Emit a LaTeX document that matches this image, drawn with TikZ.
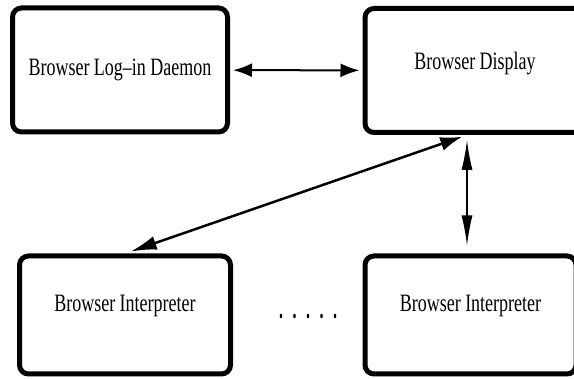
\documentclass[tikz,border=0pt]{standalone}
\usepackage{fontspec}
\newfontfamily\boxfont[FakeStretch=0.72]{Liberation Serif}
\usetikzlibrary{arrows.meta}

\begin{document}
\begin{tikzpicture}[x=1pt,y=-1pt,
        module/.style={draw,line width=5pt,rounded corners=9pt,inner sep=0pt,
            font=\boxfont\fontsize{25}{28}\selectfont},
        link/.style={line width=2pt,
            {Latex[length=19pt,width=14pt]}-{Latex[length=19pt,width=14pt]}}]
        \useasboundingbox (0,0) rectangle (574,379);
        \clip (0,0) rectangle (574,379);

        % upper row
        \node[module,minimum width=215pt,minimum height=124pt] (login) at (120,70) {Browser Log–in Daemon};
        \node[module,minimum width=220pt,minimum height=124pt,text depth=20pt] (display) at (475,70.5) {Browser Display};
        % lower row
        \node[module,minimum width=211pt,minimum height=118pt,text depth=23pt] (interpA) at (125,315) {Browser Interpreter};
        \node[module,minimum width=211pt,minimum height=118pt,text depth=23pt] (interpB) at (470.5,315) {Browser Interpreter};
        \foreach \x in {281,294.5,308,321.5,335}
            \fill (\x,316) ellipse (1.3 and 2.3);

        \coordinate (tap) at ([xshift=-8pt]display.south);
        \draw[link,shorten <=3pt,shorten >=3pt] (login) -- (display);
        \draw[line width=2.5pt,{Latex[length=22pt,width=14pt]}-{Latex[length=26pt,width=14pt]},
            shorten <=5pt,shorten >=6pt] (tap) -- (interpA.north);
        \draw[line width=1.5pt,{Latex[length=30pt,width=11pt]}-{Latex[length=30pt,width=11pt]},
            shorten <=5pt,shorten >=8pt] (tap) -- (tap |- interpB.north);

    \end{tikzpicture}
\end{document}
